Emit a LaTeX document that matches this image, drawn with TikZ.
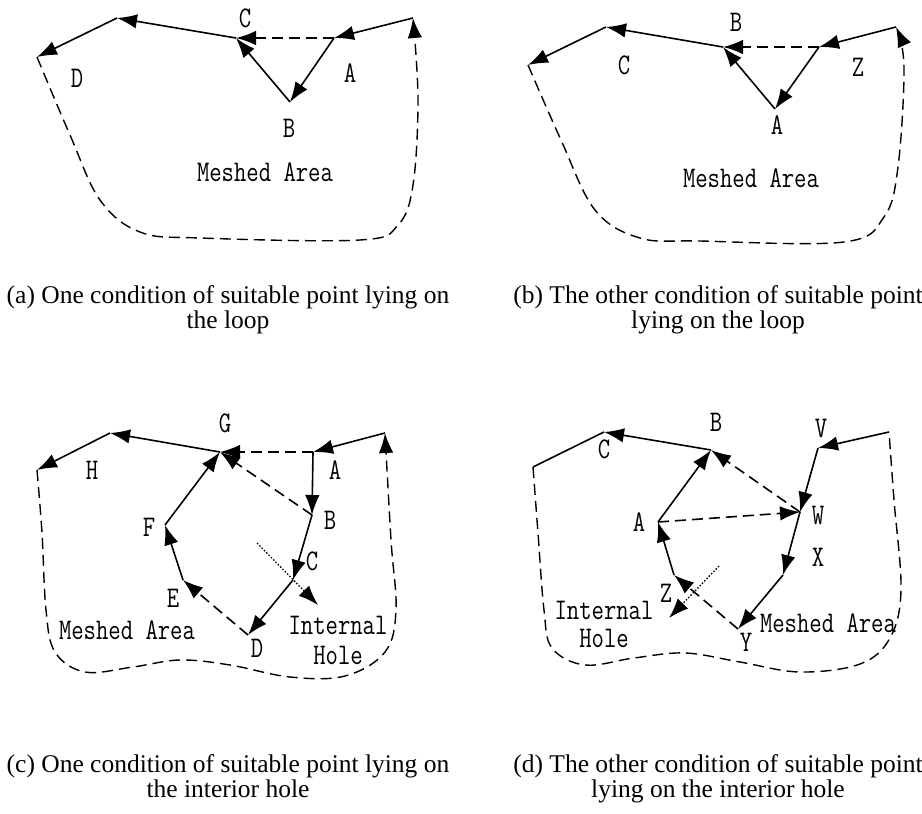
\documentclass[tikz,border=0pt]{standalone}
\usepackage{fontspec}
\setmainfont{Liberation Serif}
\newfontfamily\monolab[FakeStretch=0.8]{Latin Modern Mono}
\usetikzlibrary{arrows.meta}
\tikzset{
seg/.style={
  line width=1.6pt,
  ->
  },
dseg/.style={
  seg,
  dash pattern=on 11pt off 6pt
  },
bound/.style={
  line width=1.4pt,
  dash pattern=on 11pt off 6pt
  },
probe/.style={
  line width=1.3pt,
  dash pattern=on 1.5pt off 1.8pt,
  ->
  },
lab/.style={
  font=\monolab\fontsize{30}{32}\selectfont,
  inner sep=0pt
  },
capt/.style={
  font=\fontsize{25.5}{25}\selectfont,
  align=center,
  inner sep=0pt,
  anchor=north
  }
}

\begin{document}
\begin{tikzpicture}[x=1pt,y=-1pt,>={Latex[length=20pt,width=14.5pt]}]
\useasboundingbox (0,0) rectangle (922,814);

% (a)
\coordinate (s1) at (37,57);
\coordinate (t1) at (117,18);
\coordinate (C1) at (236,38);
\coordinate (A1) at (334,38);
\coordinate (B1) at (290,102);
\coordinate (r1) at (413,18);

\node[lab] (lC1) at (245,18) {C};
\node[lab] (lA1) at (350,73) {A};
\node[lab] (lB1) at (289,128) {B};
\node[lab] (lD1) at (77,78) {D};
\node[lab] (mesh1) at (265,172) {Meshed Area};

\draw[seg] (t1) -- (s1);
\draw[seg] (C1) -- (t1);
\draw[dseg] (A1) -- (C1);
\draw[seg] (r1) -- (A1);
\draw[seg] (A1) -- (B1);
\draw[seg] (B1) -- (C1);
\draw[bound,->] plot[smooth,tension=0.6] coordinates
  {(s1) (70,135) (100,200) (140,232) (200,238) (360,240) (398,225) (413,185) (418,100) (r1)};

% (b)
\coordinate (s2) at (528,65);
\coordinate (t2) at (606,27);
\coordinate (B2) at (723,47);
\coordinate (Z2) at (819,47);
\coordinate (A2) at (775,109);
\coordinate (r2) at (896,27);

\node[lab] (lB2) at (736,22) {B};
\node[lab] (lZ2) at (858,67) {Z};
\node[lab] (lA2) at (777,125) {A};
\node[lab] (lC2) at (624,65) {C};
\node[lab] (mesh2) at (751,178) {Meshed Area};

\draw[seg] (t2) -- (s2);
\draw[seg] (B2) -- (t2);
\draw[dseg] (Z2) -- (B2);
\draw[seg] (r2) -- (Z2);
\draw[seg] (Z2) -- (A2);
\draw[seg] (A2) -- (B2);
\draw[bound,->] plot[smooth,tension=0.6] coordinates
  {(s2) (561,140) (595,210) (640,238) (700,241) (844,242) (884,217) (898,167) (904,67) (r2)};

% (c)
\coordinate (s3) at (37,470);
\coordinate (t3) at (110,433);
\coordinate (G3) at (220,452);
\coordinate (A3) at (313,452);
\coordinate (r3) at (385,433);
\coordinate (B3) at (312,515);
\coordinate (C3) at (293,580);
\coordinate (D3) at (248,635);
\coordinate (E3) at (183,580);
\coordinate (F3) at (165,525);
\coordinate (p3) at (257,543);
\coordinate (q3) at (318,605);

\node[lab] (lG3) at (225,423) {G};
\node[lab] (lA3) at (335,470) {A};
\node[lab] (lB3) at (330,520) {B};
\node[lab] (lC3) at (312,561) {C};
\node[lab] (lD3) at (257,648) {D};
\node[lab] (lE3) at (173,598) {E};
\node[lab] (lF3) at (149,527) {F};
\node[lab] (lH3) at (92,470) {H};
\node[lab] (mesh3) at (127,630) {Meshed Area};
\node[lab] (hole3) at (338,625) {Internal};
\node[lab] (hole3b) at (338,655) {Hole};

\draw[seg] (t3) -- (s3);
\draw[seg] (G3) -- (t3);
\draw[dseg] (A3) -- (G3);
\draw[seg] (r3) -- (A3);
\draw[seg] (A3) -- (B3);
\draw[dseg] (B3) -- (G3);
\draw[seg] (B3) -- (C3);
\draw[seg] (C3) -- (D3);
\draw[dseg] (D3) -- (E3);
\draw[seg] (E3) -- (F3);
\draw[seg] (F3) -- (G3);
\draw[probe] (p3) -- (q3);
\draw[bound,->] plot[smooth,tension=0.6] coordinates
  {(s3) (42,533) (46,610) (55,652) (85,672) (133,667) (180,660) (230,665) (290,677) (345,676) (385,652) (396,610) (391,540) (r3)};

% (d)
\coordinate (s4) at (533,467);
\coordinate (C4) at (604,432);
\coordinate (B4) at (711,450);
\coordinate (V4) at (818,448);
\coordinate (r4) at (889,432);
\coordinate (W4) at (800,512);
\coordinate (X4) at (783,575);
\coordinate (Y4) at (738,629);
\coordinate (Z4) at (674,575);
\coordinate (A4) at (658,522);
\coordinate (p4) at (719,566);
\coordinate (q4) at (669,618);

\node[lab] (lC4) at (604,449) {C};
\node[lab] (lB4) at (716,422) {B};
\node[lab] (lV4) at (821,428) {V};
\node[lab] (lW4) at (818,515) {W};
\node[lab] (lX4) at (818,557) {X};
\node[lab] (lY4) at (746,642) {Y};
\node[lab] (lZ4) at (666,593) {Z};
\node[lab] (lA4) at (639,522) {A};
\node[lab] (hole4) at (604,610) {Internal};
\node[lab] (hole4b) at (604,638) {Hole};
\node[lab] (mesh4) at (828,623) {Meshed Area};

\draw[line width=1.6pt] (s4) -- (C4);
\draw[seg] (B4) -- (C4);
\draw[seg] (A4) -- (B4);
\draw[dseg] (W4) -- (B4);
\draw[dseg] (A4) -- (W4);
\draw[seg] (r4) -- (V4);
\draw[seg] (V4) -- (W4);
\draw[seg] (W4) -- (X4);
\draw[seg] (X4) -- (Y4);
\draw[dseg] (Y4) -- (Z4);
\draw[seg] (Z4) -- (A4);
\draw[probe] (p4) -- (q4);
\draw[bound] plot[smooth,tension=0.6] coordinates
  {(s4) (538,533) (544,610) (552,648) (585,665) (634,658) (685,653) (740,662) (800,672) (860,664) (890,638) (901,590) (894,500) (r4)};

% captions
\node[capt] (cap1) at (228,285) {(a) One condition of suitable point lying on\\the loop};
\node[capt] (cap2) at (718,285) {(b) The other condition of suitable point\\lying on the loop};
\node[capt] (cap3) at (228,754) {(c) One condition of suitable point lying on\\the interior hole};
\node[capt] (cap4) at (718,754) {(d) The other condition of suitable point\\lying on the interior hole};
\end{tikzpicture}
\end{document}
